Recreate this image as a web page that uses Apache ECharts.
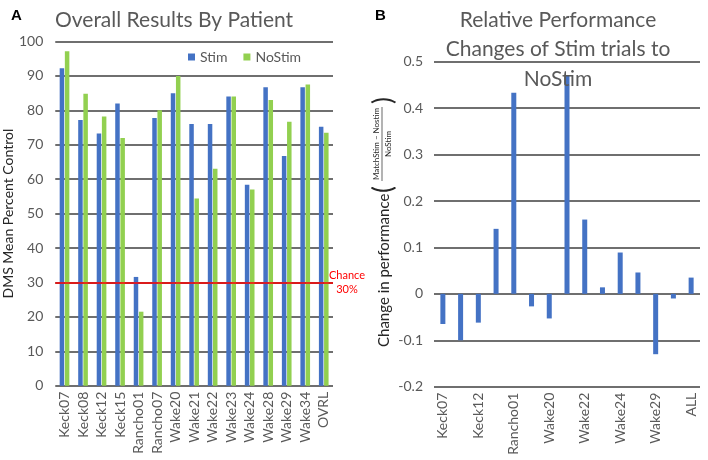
<!DOCTYPE html>
<html>
<head>
<meta charset="utf-8">
<script src="https://cdn.jsdelivr.net/npm/echarts@6/dist/echarts.min.js"></script>
<style>
  html, body { margin: 0; padding: 0; background: #fff; }
  #main { width: 708px; height: 460px; }
</style>
</head>
<body>
<div id="main"></div>
<script>
// panel A
var patients = ['Keck07', 'Keck08', 'Keck12', 'Keck15', 'Rancho01', 'Rancho07', 'Wake20', 'Wake21',
  'Wake22', 'Wake23', 'Wake24', 'Wake28', 'Wake29', 'Wake34', 'OVRL'];
var stimValues = [92.2, 77.2, 73.3, 82, 31.6, 77.8, 85, 76, 76, 84, 58.4, 86.7, 66.7, 86.7, 75.2];
var noStimValues = [97.2, 84.8, 78.2, 72, 21.5, 80, 90, 54.4, 63, 84, 57, 83, 76.7, 87.5, 73.5];
var chanceLevel = 30;

// panel B
var changeLabels = ['Keck07', 'Keck08', 'Keck12', 'Keck15', 'Rancho01', 'Rancho07', 'Wake20', 'Wake21',
  'Wake22', 'Wake23', 'Wake24', 'Wake28', 'Wake29', 'Wake34', 'ALL'];
var changeValues = [-0.065, -0.1, -0.062, 0.14, 0.433, -0.027, -0.053, 0.47, 0.16, 0.014, 0.089, 0.046, -0.13, -0.01, 0.035];

var FONT = 'Lato';
var GRAY = '#595959';
var BLUE = '#4472C4';
var GREEN = '#92D050';

var myChart = echarts.init(document.getElementById('main'));

var gridLine = { show: true, lineStyle: { color: '#3f3f3f', width: 1.5 } };

var option = {
  animation: false,
  textStyle: { fontFamily: FONT },
  title: [
    { text: 'A', left: 6, top: 3, textStyle: { fontFamily: 'Liberation Sans', fontWeight: 'bold', fontSize: 15, color: '#000' } },
    { text: 'B', left: 370, top: 3, textStyle: { fontFamily: 'Liberation Sans', fontWeight: 'bold', fontSize: 15, color: '#000' } },
    { text: 'Overall Results By Patient', left: 50, top: 5, textStyle: { fontFamily: FONT, fontWeight: 'normal', fontSize: 21, color: GRAY } },
    {
      text: 'Relative Performance\nChanges of Stim trials to\nNoStim',
      left: 553, top: 0, textAlign: 'center',
      textStyle: { fontFamily: FONT, fontWeight: 'normal', fontSize: 21, lineHeight: 29.5, color: GRAY }
    }
  ],
  legend: {
    data: ['Stim', 'NoStim'],
    left: 183, top: 45,
    itemWidth: 7, itemHeight: 7, itemGap: 16,
    icon: 'rect',
    textStyle: { fontFamily: FONT, fontSize: 14, color: GRAY }
  },
  grid: [
    { left: 51, right: 375, top: 41.5, bottom: 74.3 },
    { left: 434, right: 8, top: 61.7, bottom: 73.3 }
  ],
  xAxis: [
    {
      type: 'category', gridIndex: 0, data: patients,
      axisLine: { show: false }, axisTick: { show: false },
      axisLabel: { rotate: 90, interval: 0, fontSize: 14, color: GRAY, margin: 6 }
    },
    {
      type: 'category', gridIndex: 1, data: changeLabels,
      axisLine: { show: false, onZero: false }, axisTick: { show: false },
      axisLabel: { rotate: 90, interval: 1, fontSize: 14, color: GRAY, margin: 6 }
    }
  ],
  yAxis: [
    {
      type: 'value', gridIndex: 0, min: 0, max: 100, interval: 10,
      name: 'DMS Mean Percent Control', nameLocation: 'middle', nameRotate: 90, nameGap: 36,
      nameTextStyle: { fontFamily: FONT, fontSize: 14, color: '#262626' },
      axisLine: { show: false }, axisTick: { show: false },
      axisLabel: { fontSize: 14, color: GRAY, margin: 12 },
      splitLine: gridLine
    },
    {
      type: 'value', gridIndex: 1, min: -0.2, max: 0.5, interval: 0.1,
      axisLine: { show: false }, axisTick: { show: false },
      axisLabel: {
        fontSize: 14, color: GRAY, margin: 11,
        formatter: function (v) { return String(Math.round(v * 10) / 10); }
      },
      splitLine: gridLine
    }
  ],
  series: [
    {
      name: 'Stim', type: 'bar', xAxisIndex: 0, yAxisIndex: 0,
      data: stimValues, barWidth: 4.5, barGap: '15%',
      itemStyle: { color: BLUE },
      markLine: {
        silent: true, symbol: 'none',
        lineStyle: { color: '#ff0000', width: 1.5, type: 'solid' },
        label: {
          position: 'end', formatter: 'Chance\n30%', color: '#ff0000',
          fontFamily: FONT, fontSize: 11, lineHeight: 14, align: 'center', distance: 14
        },
        data: [{ yAxis: chanceLevel }]
      }
    },
    {
      name: 'NoStim', type: 'bar', xAxisIndex: 0, yAxisIndex: 0,
      data: noStimValues, barWidth: 4.5,
      itemStyle: { color: GREEN }
    },
    {
      name: 'Change', type: 'bar', xAxisIndex: 1, yAxisIndex: 1,
      data: changeValues, barWidth: 5,
      itemStyle: { color: BLUE }
    }
  ],
  graphic: [
    {
      type: 'group', x: 384, y: 347, rotation: Math.PI / 2,
      children: [
        { type: 'text', x: 0, y: 0, style: { text: 'Change in performance', fontFamily: FONT, fontSize: 15, fill: '#262626', verticalAlign: 'middle' } },
        { type: 'text', x: 154, y: 0, style: { text: '(', fontFamily: FONT, fontSize: 26, fill: '#262626', verticalAlign: 'middle' } },
        { type: 'text', x: 203, y: -4, style: { text: 'MatchStim \u2013 Nostim', fontFamily: FONT, fontSize: 8, fill: '#262626', align: 'center', verticalAlign: 'bottom' } },
        { type: 'line', shape: { x1: 166, y1: -2, x2: 240, y2: -2 }, style: { stroke: '#262626', lineWidth: 0.7 } },
        { type: 'text', x: 203, y: 0, style: { text: 'NoStim', fontFamily: FONT, fontSize: 8, fill: '#262626', align: 'center', verticalAlign: 'top' } },
        { type: 'text', x: 243, y: 0, style: { text: ')', fontFamily: FONT, fontSize: 26, fill: '#262626', verticalAlign: 'middle' } }
      ]
    }
  ]
};

option && myChart.setOption(option);
</script>
</body>
</html>
